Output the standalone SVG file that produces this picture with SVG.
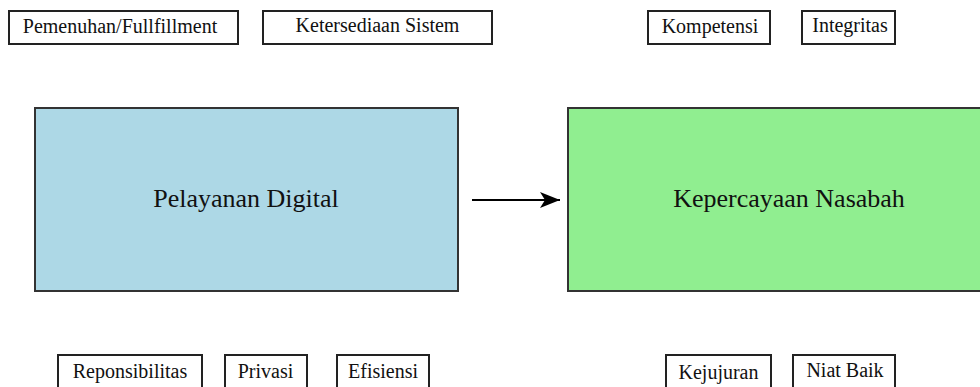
<svg xmlns="http://www.w3.org/2000/svg" width="980" height="387" viewBox="0 0 980 387">
<defs>
<style>
.sm rect{fill:#fff;stroke:#222;stroke-width:2}
.sm text{font-size:20px;fill:#111;text-anchor:middle}
.big text{font-size:26px;fill:#111;text-anchor:middle}
.big rect{stroke:#333;stroke-width:2}
</style>
<marker id="ah" viewBox="0 0 20 16" refX="20" refY="8" markerWidth="20" markerHeight="16" markerUnits="userSpaceOnUse" orient="auto">
<path d="M0,0 L20,8 L0,16 L5,8 Z" fill="#000"/>
</marker>
</defs>
<rect width="980" height="387" fill="#fff"/>
<g font-family="'Liberation Serif', 'Times New Roman', 'DejaVu Serif', serif">
<g id="pemenuhan" class="sm"><rect x="9" y="11" width="229" height="33"/><text x="120" y="33">Pemenuhan/Fullfillment</text></g>
<g id="ketersediaan" class="sm"><rect x="263" y="11" width="229" height="33"/><text x="377.5" y="32">Ketersediaan Sistem</text></g>
<g id="kompetensi" class="sm"><rect x="648" y="11" width="122" height="33"/><text x="710" y="33">Kompetensi</text></g>
<g id="integritas" class="sm"><rect x="802" y="11" width="93" height="33"/><text x="850" y="31.5">Integritas</text></g>
<g id="pelayanan" class="big"><rect x="35" y="108" width="423" height="183" fill="#ADD8E6"/><text x="246" y="207">Pelayanan Digital</text></g>
<g id="kepercayaan" class="big"><rect x="568" y="108" width="442" height="183" fill="#90EE90"/><text x="789" y="207">Kepercayaan Nasabah</text></g>
<g id="reponsibilitas" class="sm"><rect x="58" y="355" width="144" height="40"/><text x="130" y="378">Reponsibilitas</text></g>
<g id="privasi" class="sm"><rect x="225" y="355" width="82" height="40"/><text x="265.5" y="378">Privasi</text></g>
<g id="efisiensi" class="sm"><rect x="337" y="355" width="92" height="40"/><text x="383" y="378">Efisiensi</text></g>
<g id="kejujuran" class="sm"><rect x="666" y="355" width="105" height="40"/><text x="718.5" y="379">Kejujuran</text></g>
<g id="niatbaik" class="sm"><rect x="793" y="355" width="102" height="40"/><text x="845" y="377">Niat Baik</text></g>
</g>
<g id="connectors">
<line x1="472" y1="200" x2="560" y2="200" stroke="#000" stroke-width="2" marker-end="url(#ah)"/>
</g>
</svg>
